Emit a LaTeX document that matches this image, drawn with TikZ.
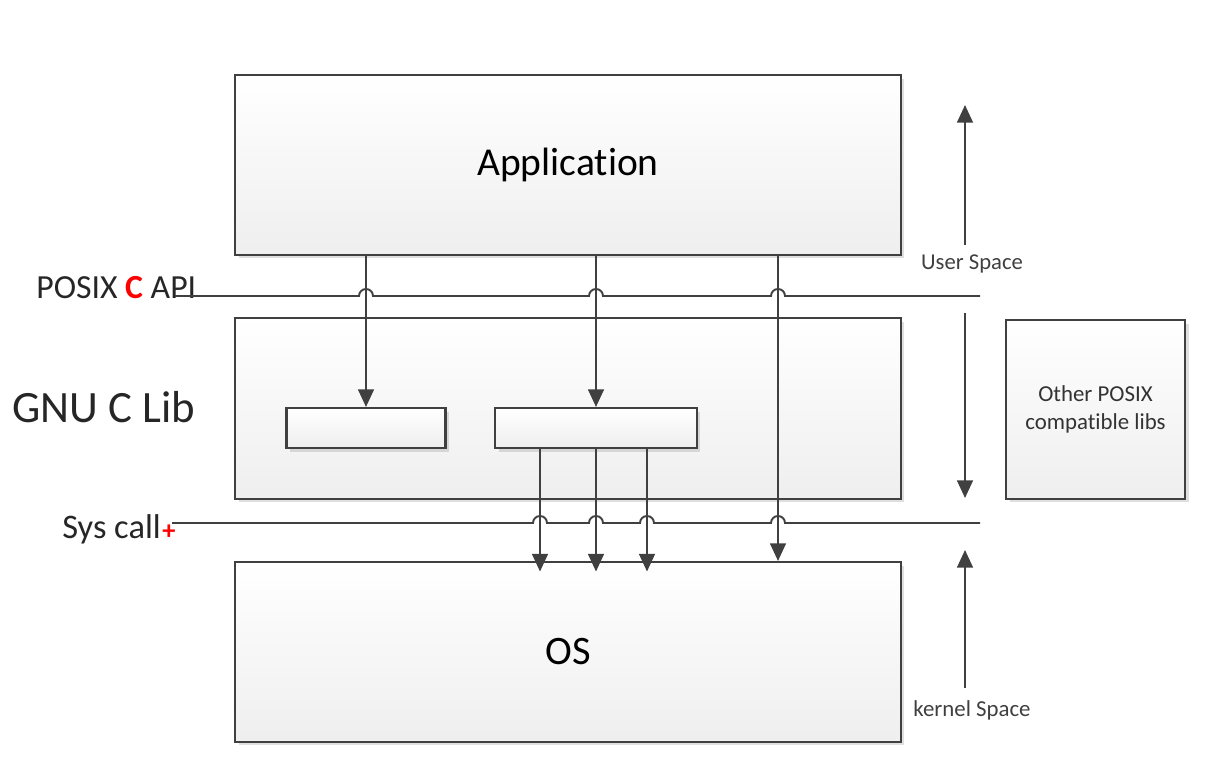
\documentclass[tikz,border=0pt]{standalone}
\usepackage{fontspec}
\setmainfont{Carlito}[Ligatures=NoCommon]
\usetikzlibrary{arrows.meta,shadows}
\definecolor{linegray}{HTML}{404040}
\tikzset{
    box/.style={draw=linegray,line width=1.2pt,top color=white,bottom color=gray!13,
      drop shadow={shadow xshift=2pt,shadow yshift=-2pt,opacity=0.25},inner sep=0pt},
    arr/.style={draw=linegray,line width=1.1pt,-{Triangle[width=9pt,length=10pt]}},
    wire/.style={draw=linegray,line width=1.1pt},
    lbl/.style={inner sep=0pt,text=black!85},
  }
\begin{document}
\begin{tikzpicture}[x=0.02cm,y=-0.02cm]
				  \useasboundingbox (0,0) rectangle (1208,760);
				  %boites
				  \node[box,minimum width=13.32cm,minimum height=3.6cm,font=\fontsize{22.5}{26}\selectfont](app) at (568,165) {Application};
				  \node[box,minimum width=13.32cm,minimum height=3.62cm](glibc) at (568,408.5) {};
				  \node[box,minimum width=13.32cm,minimum height=3.6cm,font=\fontsize{23}{26}\selectfont](os) at (568,652) {OS};
				  \node[box,minimum width=3.18cm,minimum height=0.8cm](libA) at (366,428) {};
				  \node[box,minimum width=4.04cm,minimum height=0.8cm](libB) at (596,428) {};
				  \node[box,minimum width=3.58cm,minimum height=3.58cm,align=center,font=\fontsize{13}{15.5}\selectfont,text=black!80](other) at (1095.5,409.5) {Other POSIX\\compatible libs};

				  %textes
				  \node[lbl,anchor=base west,font=\fontsize{19.2}{22}\selectfont](posix) at (36,299) {POSIX {\color{red}\bfseries C} API};
				  \node[lbl,anchor=base west,font=\fontsize{25.5}{30}\selectfont](gnu) at (12,422) {GNU C Lib};
				  \node[lbl,anchor=base west,font=\fontsize{19.6}{22}\selectfont](sys) at (62,539) {Sys call};
				  \node[inner sep=0pt,text=red,font=\bfseries\fontsize{15}{15}\selectfont](plus) at (169,532) {+};
				  \node[lbl,text=black!75,font=\fontsize{12.9}{15}\selectfont](user) at (972,264) {User Space};
				  \node[lbl,text=black!75,font=\fontsize{13}{15}\selectfont](kern) at (972,710) {kernel Space};

				  %lignes avec sauts
				  \coordinate (P1) at (175,296);
				  \coordinate (P2) at (980,296);
				  \coordinate (S1) at (172,523);
				  \coordinate (S2) at (980,523);
				  \draw[wire] (P1) \foreach \x in {366,596,778} {-- (\x-7,296) arc[start angle=180,end angle=360,radius=7]} -- (P2);
				  \draw[wire] (S1) \foreach \x in {540,596,647,778} {-- (\x-7,523) arc[start angle=180,end angle=360,radius=7]} -- (S2);

				  %fleches
				  \draw[arr] (app.south -| libA.north) -- (libA.north);
				  \draw[arr] (app.south -| libB.north) -- (libB.north);
				  \coordinate (X) at (778,255);
				  \draw[arr] (X) -- (X |- os.north);
				  \foreach \x in {540,596,647}
				    \draw[arr] (libB.south -| \x,0) -- ([yshift=-6] os.north -| \x,0);

				  %espaces
				  \coordinate (U1) at (965,245);
				  \coordinate (U2) at (965,105);
				  \coordinate (D1) at (965,313);
				  \coordinate (D2) at (965,498);
				  \coordinate (K1) at (965,688);
				  \coordinate (K2) at (965,550);
				  \draw[arr] (U1) -- (U2);
				  \draw[arr] (D1) -- (D2);
				  \draw[arr] (K1) -- (K2);
				  \end{tikzpicture}
\end{document}
